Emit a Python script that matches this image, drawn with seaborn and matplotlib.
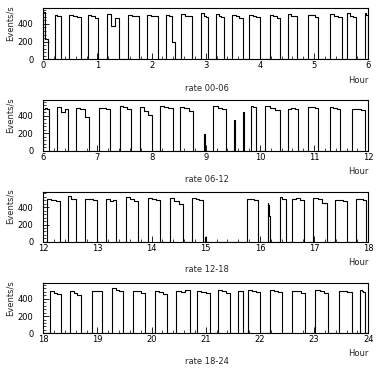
import numpy as np
import pandas as pd
import matplotlib
matplotlib.use("Agg")
import matplotlib.pyplot as plt
from matplotlib.ticker import MultipleLocator
import seaborn as sns

# ---------------- data ----------------
# Each pulse: rise time [h], fall time [h], plateau levels [Events/s] (spread evenly over the pulse)
on_00_06 = [0.00, 0.215, 0.474, 0.82, 1.18, 1.57, 1.92, 2.265, 2.55, 2.92, 3.19, 3.48, 3.80,
            4.185, 4.52, 4.89, 5.29, 5.60, 5.94]
off_00_06 = [0.085, 0.33, 0.695, 1.015, 1.40, 1.77, 2.12, 2.44, 2.74, 3.04, 3.33, 3.69, 4.00,
             4.37, 4.68, 5.08, 5.51, 5.78, 6.0]
lvl_00_06 = [(540, 230, 230), (505, 495, 490), (505, 485, 475), (505, 485, 470), (515, 375, 470),
             (500, 495, 485), (500, 490, 485), (500, 495, 190), (515, 495, 485), (520, 490, 480),
             (515, 490, 480), (500, 490, 470), (500, 490, 480), (505, 495, 470), (510, 495, 485),
             (505, 500, 480), (510, 495, 480), (525, 490, 480), (520, 500, 500)]

on_06_12 = [6.00, 6.26, 6.60, 7.03, 7.415, 7.785, 8.15, 8.52, 9.14, 9.84, 10.09, 10.52, 10.89,
            11.29, 11.69]
off_06_12 = [6.11, 6.46, 6.85, 7.23, 7.61, 8.00, 8.39, 8.77, 9.37, 9.93, 10.37, 10.70, 11.08,
             11.48, 11.94]
lvl_06_12 = [(480, 490, 475), (495, 440, 480), (490, 480, 385), (490, 485, 475), (515, 495, 475),
             (500, 450, 410), (510, 495, 485), (500, 485, 450), (510, 490, 475), (510, 505, 500),
             (510, 490, 460), (475, 490, 475), (500, 495, 485), (495, 490, 480), (475, 480, 470)]
spike_t_06_12 = [8.97, 9.52, 9.69]
spike_h_06_12 = [190, 350, 440]

on_12_18 = [12.06, 12.46, 12.77, 13.16, 13.53, 13.94, 14.33, 14.74, 15.755, 16.14, 16.37,
            16.59, 16.98, 17.39, 17.78]
off_12_18 = [12.31, 12.61, 13.00, 13.35, 13.74, 14.15, 14.58, 14.95, 15.97, 16.19, 16.48,
             16.81, 17.23, 17.60, 17.96]
lvl_12_18 = [(500, 480, 475), (530, 500, 490), (500, 490, 480), (495, 470, 485), (515, 490, 475),
             (510, 500, 480), (505, 470, 440), (510, 495, 480), (500, 495, 480), (450, 430, 300),
             (520, 500, 490), (490, 505, 480), (510, 490, 450), (480, 480, 470), (490, 500, 480)]
spike_t_12_18 = [14.99]
spike_h_12_18 = [60]

on_18_24 = [18.12, 18.49, 18.89, 19.26, 19.65, 20.06, 20.45, 20.84, 21.23, 21.60, 21.78, 22.18,
            22.59, 23.02, 23.45, 23.85]
off_18_24 = [18.33, 18.70, 19.08, 19.48, 19.88, 20.28, 20.70, 21.08, 21.45, 21.68, 22.00, 22.40,
             22.83, 23.26, 23.69, 23.94]
lvl_18_24 = [(495, 470, 460), (490, 470, 450), (495, 490, 485), (525, 500, 490), (495, 490, 470),
             (495, 480, 460), (485, 480, 500), (490, 480, 470), (500, 490, 470), (490, 495, 490),
             (505, 495, 480), (500, 490, 475), (495, 490, 470), (500, 485, 470), (495, 490, 475),
             (500, 490, 480)]

hour_ranges = [(0, 6), (6, 12), (12, 18), (18, 24)]
titles = ["rate 00-06", "rate 06-12", "rate 12-18", "rate 18-24"]
ylabel = "Events/s"
xlabel = "Hour"

panels = [
    (on_00_06, off_00_06, lvl_00_06, [], []),
    (on_06_12, off_06_12, lvl_06_12, spike_t_06_12, spike_h_06_12),
    (on_12_18, off_12_18, lvl_12_18, spike_t_12_18, spike_h_12_18),
    (on_18_24, off_18_24, lvl_18_24, [], []),
]


def build_steps(t0, t1, ons, offs, lvls, sp_t, sp_h):
    pulses = [(a, b, list(l)) for a, b, l in zip(ons, offs, lvls)]
    pulses += [(t, t + 0.02, [h]) for t, h in zip(sp_t, sp_h)]
    pulses.sort(key=lambda p: p[0])
    xs, ys = [t0], [0.0]
    for a, b, lv in pulses:
        w = (b - a) / len(lv)
        for i, v in enumerate(lv):
            xs.append(a + i * w)
            ys.append(v)
        xs.append(b)
        ys.append(0.0)
    xs.append(t1)
    ys.append(0.0)
    return pd.DataFrame({"hour": xs, "rate": ys})


# ---------------- styling ----------------
sns.set_style("white")
plt.rcParams["font.family"] = ["DejaVu Sans"]
plt.rcParams["font.size"] = 6

W, H = 382, 372
fig = plt.figure(figsize=(W / 100, H / 100), dpi=100)

# (top, bottom) in pixels
rows = [(8.0, 59.3), (100.0, 150.7), (191.7, 241.8), (283.3, 333.3)]
left_px, right_px = 43.3, 368.3

for (t0, t1), title, (ons, offs, lvls, spt, sph), (top, bot) in zip(hour_ranges, titles, panels, rows):
    ax = fig.add_axes([left_px / W, 1 - bot / H, (right_px - left_px) / W, (bot - top) / H])
    df = build_steps(t0, t1, ons, offs, lvls, spt, sph)
    sns.lineplot(data=df, x="hour", y="rate", drawstyle="steps-post", estimator=None,
                 sort=False, color="black", linewidth=0.8, ax=ax)
    ax.set_xlim(t0, t1)
    ax.set_ylim(0, 580)
    ax.xaxis.set_major_locator(MultipleLocator(1))
    ax.xaxis.set_minor_locator(MultipleLocator(0.2))
    ax.yaxis.set_major_locator(MultipleLocator(200))
    ax.yaxis.set_minor_locator(MultipleLocator(40))
    ax.set_xticks(np.arange(t0, t1 + 1))
    ax.set_xticklabels([str(int(v)) for v in np.arange(t0, t1 + 1)])
    ax.tick_params(axis="x", which="major", direction="in", length=4.5, width=0.6,
                   pad=1.5, labelsize=6, colors="black")
    ax.tick_params(axis="x", which="minor", direction="in", length=2.3, width=0.6)
    ax.tick_params(axis="y", which="major", direction="in", length=4.5, width=0.6,
                   pad=7, labelsize=6, colors="black")
    ax.tick_params(axis="y", which="minor", direction="in", length=2.0, width=0.6)
    ax.tick_params(bottom=True, left=True, top=False, right=False, which="both")
    for s in ax.spines.values():
        s.set_color("black")
        s.set_linewidth(0.8)
    ax.set_xlabel("")
    ax.set_ylabel(ylabel, fontsize=6, rotation=90, loc="top")
    ax.yaxis.set_label_coords(-0.088, 1.06)
    ax.text(1.0, -0.46, xlabel, transform=ax.transAxes, ha="right", va="baseline", fontsize=6)
    ax.text(0.505, -0.61, title, transform=ax.transAxes, ha="center", va="baseline", fontsize=6)

fig.savefig("out.png", dpi=100, facecolor="white")
